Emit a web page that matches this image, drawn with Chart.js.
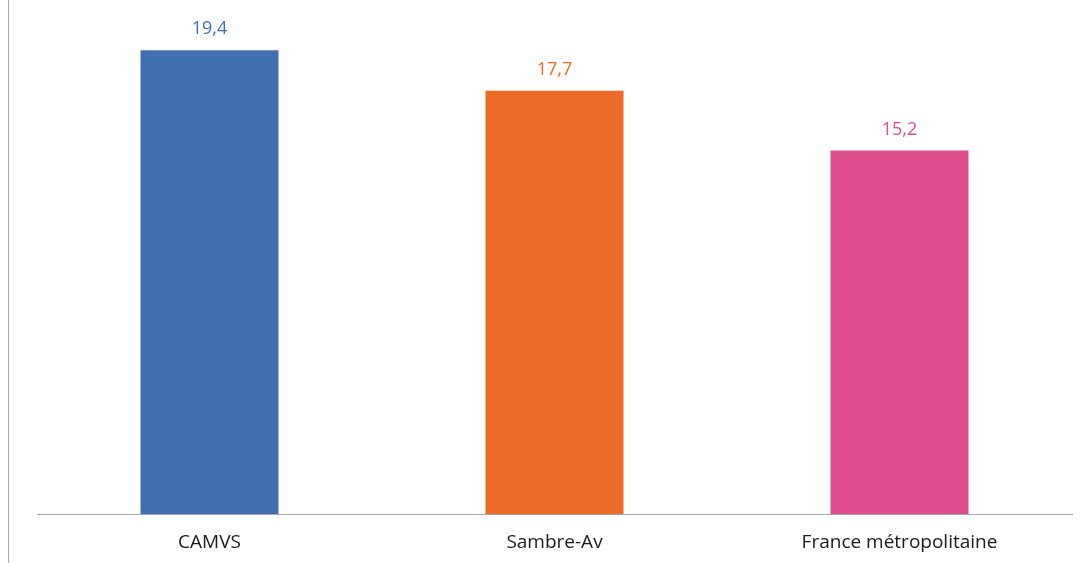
<!DOCTYPE html>
<html>
<head>
<meta charset="utf-8">
<script src="https://cdn.jsdelivr.net/npm/chart.js@4.4.1/dist/chart.umd.min.js"></script>
<style>
	html, body { margin: 0; padding: 0; background: #fff; }
	#wrap { position: relative; width: 1086px; height: 563px; }
	#frame { position: absolute; left: 8px; top: 0; width: 1px; height: 563px; background: #a6a6a6; }
</style>
</head>
<body>
<div id="wrap">
	<div id="frame"></div>
	<canvas id="chart" width="1086" height="563"></canvas>
</div>
<script>
const categories = ["CAMVS", "Sambre-Av", "France métropolitaine"];
const values = [19.4, 17.7, 15.2];
const barColors = ["#426fb1", "#eb6a25", "#de4e8f"];

const FONT = "'Open Sans', sans-serif";

const valueLabels = {
	id: 'valueLabels',
	afterDatasetsDraw(chart) {
		const ctx = chart.ctx;
		const meta = chart.getDatasetMeta(0);
		ctx.save();
		ctx.font = "18px " + FONT;
		ctx.textAlign = "center";
		ctx.textBaseline = "alphabetic";
		meta.data.forEach((bar, i) => {
			ctx.fillStyle = barColors[i];
			ctx.fillText(values[i].toFixed(1).replace('.', ','), bar.x, bar.y - 16);
		});
		ctx.restore();
	}
};

new Chart(document.getElementById('chart'), {
	type: 'bar',
	data: {
		labels: categories,
		datasets: [{
			data: values,
			backgroundColor: barColors,
			categoryPercentage: 0.4,
			barPercentage: 1.0
		}]
	},
	options: {
		responsive: false,
		animation: false,
		layout: { padding: { left: 37, right: 14, top: 0, bottom: -8 } },
		plugins: { legend: { display: false }, tooltip: { enabled: false } },
		scales: {
			x: {
				grid: { display: false, drawTicks: false },
				border: { display: true, color: '#a6a6a6', width: 1 },
				ticks: { color: '#1a1a1a', font: { size: 19, family: FONT, lineHeight: 1 }, padding: 19 }
			},
			y: {
				display: false,
				min: 0,
				max: 21.5
			}
		}
	},
	plugins: [valueLabels]
});
</script>
</body>
</html>
